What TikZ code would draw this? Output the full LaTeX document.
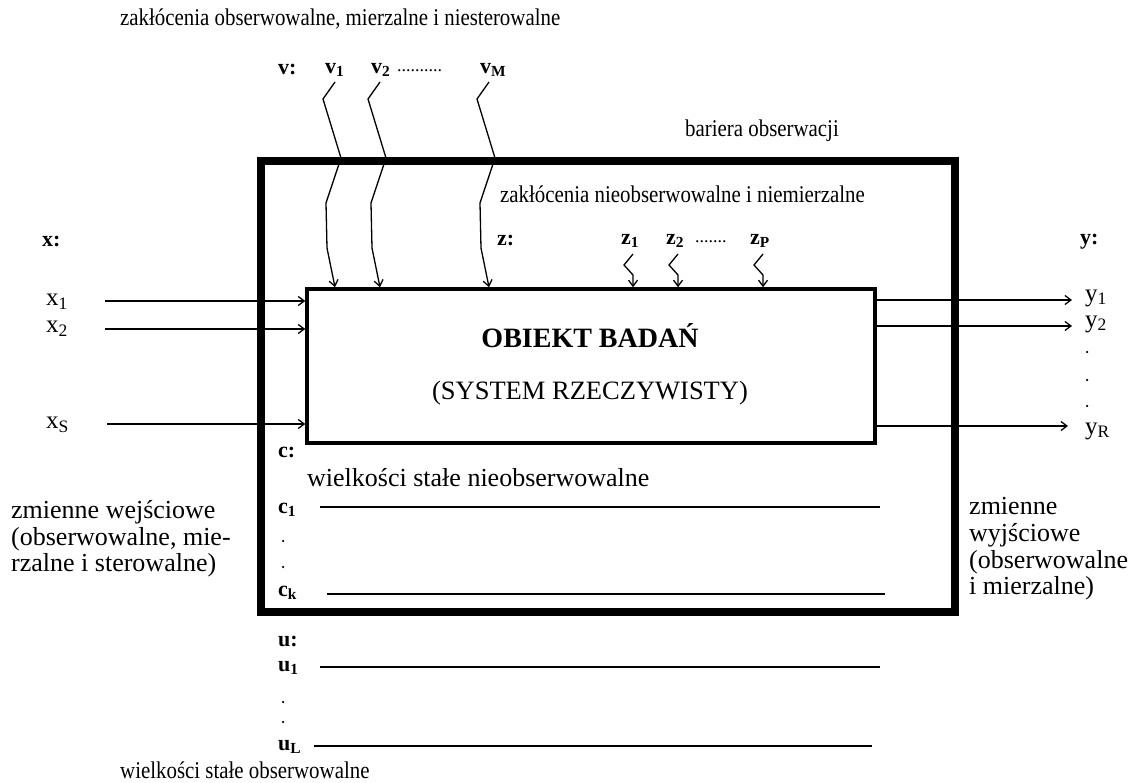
\documentclass[tikz,border=0pt]{standalone}
\usepackage{fontspec}
\setmainfont{Liberation Serif}
\newfontfamily\narrowserif[FakeStretch=0.87]{Liberation Serif}
\usetikzlibrary{arrows.meta}
\begin{document}
\begin{tikzpicture}[x=1pt,y=-1pt,
  txt/.style={inner sep=0pt,anchor=west,font=\fontsize{26}{26.5}\selectfont},
  txts/.style={inner sep=0pt,anchor=west,font=\narrowserif\fontsize{24}{25}\selectfont},
  par/.style={inner sep=0pt,anchor=north west,align=left,font=\fontsize{26}{26.8}\selectfont},
  lbl/.style={inner sep=0pt,anchor=west,font=\fontsize{22}{24}\selectfont\bfseries},
  xl/.style={inner sep=0pt,anchor=west,font=\fontsize{25}{26}\selectfont},
  dots/.style={inner sep=0pt,anchor=west,font=\fontsize{18}{20}\selectfont},
  sig/.style={line width=1.3pt,-{Straight Barb[length=6pt,width=9pt]}},
  wire/.style={line width=1.3pt},
  pt/.style={circle,fill,inner sep=0pt,minimum size=2.5pt}]
\useasboundingbox (0,0) rectangle (1133,783);

% barrier and object
\node[draw,line width=8.5pt,minimum width=694pt,minimum height=451pt,inner sep=0pt] (barrier) at (608,386.5) {};
\node[draw,line width=3.5pt,minimum width=568pt,minimum height=154pt,inner sep=0pt] (obj) at (591,366) {};
\node[inner sep=0pt,font=\fontsize{28}{29}\selectfont\bfseries] (objt) at (590,336) {OBIEKT BADAŃ};
\node[inner sep=0pt,font=\fontsize{26.5}{28}\selectfont] (objs) at (590,393) {(SYSTEM RZECZYWISTY)};

% top texts
\node[txts] (title) at (120,19) {zakłócenia obserwowalne, mierzalne i niesterowalne};
\node[txts] (bariera) at (685,131) {bariera obserwacji};
\node[txts] (zakn) at (500,194) {zakłócenia nieobserwowalne i niemierzalne};

% v labels
\node[lbl] (vl) at (278,70) {v:};
\node[lbl] (v1) at (325,70) {v\textsubscript{1}};
\node[lbl] (v2) at (371,70) {v\textsubscript{2}};
\node[dots] (vd) at (397,71) {..........};
\node[lbl] (vM) at (480,70) {v\textsubscript{M}};

% v squiggles
\foreach \n/\xx in {v1s/335,v2s/380,vMs/489}{
  \coordinate (\n) at (\xx,82);
  \draw[sig] (\n) -- ++(-12,17) -- ++(18,59) -- ++(-15,45) -- ++(1,45) -- (\n |- obj.north);
}

% z labels
\node[lbl] (zl) at (497,241) {z:};
\node[lbl] (z1) at (621,241) {z\textsubscript{1}};
\node[lbl] (z2) at (666,241) {z\textsubscript{2}};
\node[dots] (zd) at (695,242) {.......};
\node[lbl] (zP) at (750,241) {z\textsubscript{P}};

\foreach \n/\xx in {z1s/633,z2s/678,zPs/763}{
  \coordinate (\n) at (\xx,254);
  \draw[sig] (\n) -- ++(-9,11) -- ++(9,10) -- (\n |- obj.north);
}

% inputs x
\node[lbl] (xl) at (42,242) {x:};
\node[xl] (x1) at (46,302) {x\textsubscript{1}};
\node[xl] (x2) at (46,329) {x\textsubscript{2}};
\node[xl] (xS) at (46,425) {x\textsubscript{S}};
\coordinate (x1s) at (105,301);
\coordinate (x2s) at (105,329);
\coordinate (xSs) at (107,424);
\draw[sig] (x1s) -- (x1s -| obj.west);
\draw[sig] (x2s) -- (x2s -| obj.west);
\draw[sig] (xSs) -- (xSs -| obj.west);

% outputs y
\node[lbl] (yl) at (1080,242) {y:};
\node[xl] (y1) at (1085,298) {y\textsubscript{1}};
\node[xl] (y2) at (1085,324) {y\textsubscript{2}};
\node[xl] (yR) at (1085,431) {y\textsubscript{R}};
\coordinate (y1e) at (1072,300);
\coordinate (y2e) at (1072,326);
\coordinate (yRe) at (1068,426);
\draw[sig] (obj.east |- y1e) -- (y1e);
\draw[sig] (obj.east |- y2e) -- (y2e);
\draw[sig] (obj.east |- yRe) -- (yRe);
\node[pt] (yd1) at (1087,352) {};
\node[pt] (yd2) at (1087,380) {};
\node[pt] (yd3) at (1087,406) {};

% constants c
\node[lbl] (cl) at (278,452) {c:};
\node[txt] (ctext) at (307,478) {wielkości stałe nieobserwowalne};
\node[lbl] (c1) at (278,510) {c\textsubscript{1}};
\node[lbl] (ck) at (278,593) {c\textsubscript{k}};
\node[pt] (cd1) at (283,541) {};
\node[pt] (cd2) at (283,567) {};
\coordinate (c1a) at (320,507);
\coordinate (c1b) at (880,507);
\coordinate (cka) at (327,594);
\coordinate (ckb) at (885,594);
\draw[wire] (c1a) -- (c1b);
\draw[wire] (cka) -- (ckb);

% constants u
\node[lbl] (ul) at (278,641) {u:};
\node[lbl] (u1) at (278,668) {u\textsubscript{1}};
\node[lbl] (uL) at (278,747) {u\textsubscript{L}};
\node[pt] (ud1) at (283,702) {};
\node[pt] (ud2) at (283,722) {};
\coordinate (u1a) at (320,667);
\coordinate (u1b) at (880,667);
\coordinate (uLa) at (314,746);
\coordinate (uLb) at (872,746);
\draw[wire] (u1a) -- (u1b);
\draw[wire] (uLa) -- (uLb);
\node[txts] (utext) at (120,770) {wielkości stałe obserwowalne};

% side texts
\node[par] (ltext) at (11,500) {zmienne wejściowe\\(obserwowalne, mie-\\rzalne i sterowalne)};
\node[par] (rtext) at (969,497) {zmienne\\wyjściowe\\(obserwowalne\\i mierzalne)};
\end{tikzpicture}
\end{document}
